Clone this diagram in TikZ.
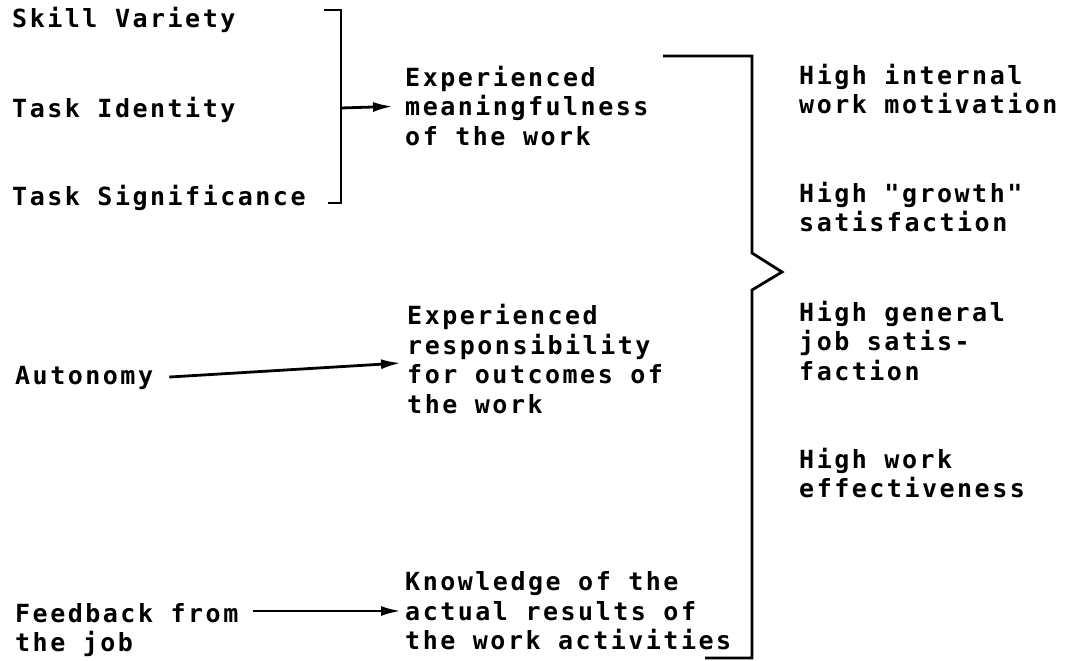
\documentclass[tikz,border=0pt]{standalone}
\usepackage{fontspec}
\newfontfamily\printfont{DejaVu Sans Mono}[LetterSpace=10]
\usetikzlibrary{arrows.meta, positioning}
\tikzset{
  label text/.style = {font={\printfont\bfseries\fontsize{25}{29.5}\selectfont},
                       align=left, inner sep=0pt, anchor=west},
  feed/.style       = {-{Latex[length=20pt,width=10pt]}, line width=2.8pt},
  brace/.style      = {line width=2.8pt, line join=miter},
}

\begin{document}
\begin{tikzpicture}[x=1pt, y=-1pt]
  \useasboundingbox (0,0) rectangle (1071,661);

  % core job dimensions
  \node[label text] (sv) at (12,20)  {Skill Variety};
  \node[label text] (ti) at (12,110) {Task Identity};
  \node[label text] (ts) at (12,198) {Task Significance};
  \node[label text] (au) at (15,378) {Autonomy};
  \node[label text] (fb) at (15,630) {Feedback from\\the job};

  % critical psychological states
  \node[label text] (sm) at (405,106) {Experienced\\meaningfulness\\of the work};
  \node[label text] (sr) at (407,359) {Experienced\\responsibility\\for outcomes of\\the work};
  \node[label text] (sk) at (405,611) {Knowledge of the\\actual results of\\the work activities};

  % outcomes
  \node[label text] (o1) at (799,89)  {High internal\\work motivation};
  \node[label text] (o2) at (799,207) {High "growth"\\satisfaction};
  \node[label text] (o3) at (799,341) {High general\\job satis-\\faction};
  \node[label text] (o4) at (799,473) {High work\\effectiveness};

  % bracket over the first three dimensions
  \draw[brace] (324,10) -- (341,10) -- (341,203) -- (328,203);
  \coordinate (lb) at (341,108);
  \draw[feed, shorten >=12pt] (lb) -- (sm.west);

  \draw[feed, shorten <=16pt] (au.east) -- ([shift={(-6pt,-4pt)}]sr.west);
  \draw[feed, shorten <=14pt, shorten >=4pt] (fb.east |- sk.west) -- (sk.west);

  % bracket joining the states to the outcomes
  \draw[brace] (663,56) -- (752,56) -- (752,253) -- (782,272) -- (752,290)
               -- (752,658) -- (705,658);
\end{tikzpicture}
\end{document}
